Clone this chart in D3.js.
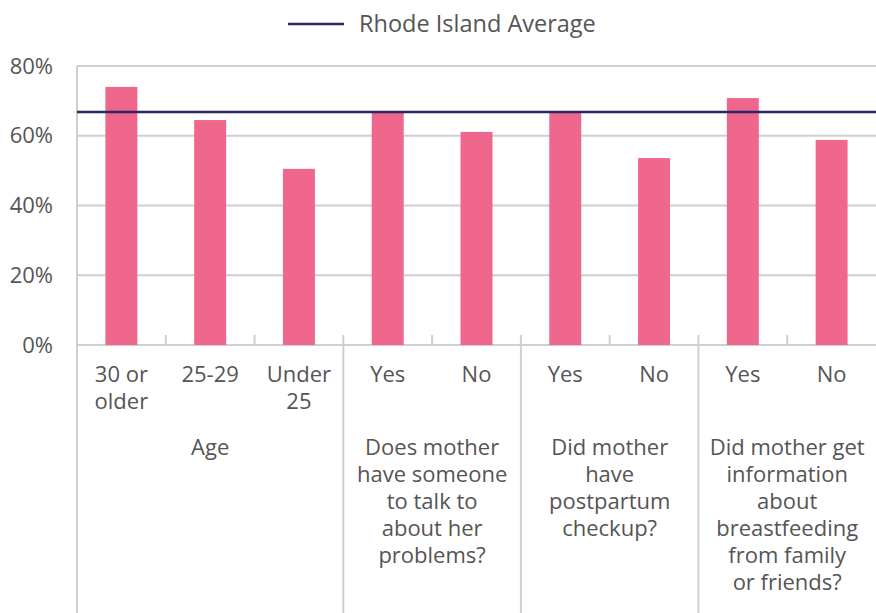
<!DOCTYPE html>
<html>
<head>
<meta charset="utf-8">
<script src="https://cdn.jsdelivr.net/npm/d3@7"></script>
<style>
  body { margin: 0; background: #fff; }
  svg text { font-family: "Open Sans", "Noto Sans", sans-serif; fill: #555; }
</style>
</head>
<body>
<svg id="drawing_region"></svg>
<script>
// category keys (unique) and their printed labels
const keys = ["age30", "age25", "age20", "talkY", "talkN", "ppY", "ppN", "bfY", "bfN"];
const labels = ["30 or\nolder", "25-29", "Under\n25", "Yes", "No", "Yes", "No", "Yes", "No"];
const values = [74.0, 64.5, 50.5, 66.9, 61.1, 66.9, 53.6, 70.8, 58.8];

const groupNames = [
    ["Age"],
    ["Does mother", "have someone", "to talk to", "about her", "problems?"],
    ["Did mother", "have", "postpartum", "checkup?"],
    ["Did mother get", "information", "about", "breastfeeding", "from family", "or friends?"]
];
const groupSizes = [3, 2, 2, 2];

const average = 66.8;
const averageLabel = "Rhode Island Average";
const yTicks = [0, 20, 40, 60, 80];

const config = {
    width: 876,
    height: 613,
    margin: {top: 66, right: 0, bottom: 268, left: 77}
};

const svg = d3.select("#drawing_region")
    .attr("width", config.width)
    .attr("height", config.height);

const inner_width = config.width - config.margin.left - config.margin.right;
const inner_height = config.height - config.margin.top - config.margin.bottom;

const chart = svg.append("g")
    .attr("transform", `translate(${config.margin.left}, ${config.margin.top})`);

const xscale = d3.scaleBand()
    .domain(keys)
    .range([0, inner_width])
    .paddingInner(0.64)
    .paddingOuter(0.32);

const yscale = d3.scaleLinear()
    .domain([0, 80])
    .range([inner_height, 0]);

const grid = "#cfcfcf";

// gridlines
chart.append("g")
    .selectAll("line")
    .data(yTicks)
    .join("line")
    .attr("x1", 0)
    .attr("x2", inner_width)
    .attr("y1", d => yscale(d))
    .attr("y2", d => yscale(d))
    .attr("stroke", grid)
    .attr("stroke-width", 2);

// y axis labels
const yaxis = d3.axisLeft(yscale)
    .tickValues(yTicks)
    .tickSize(0)
    .tickPadding(24)
    .tickFormat(d => d + "%");

chart.append("g")
    .call(yaxis)
    .call(g => g.select(".domain").remove())
    .selectAll("text")
    .attr("font-size", "22px")
    .attr("font-family", null)
    .attr("fill", "#555");

// left axis line runs down to the bottom
chart.append("line")
    .attr("x1", 0).attr("x2", 0)
    .attr("y1", 0).attr("y2", config.height - config.margin.top)
    .attr("stroke", grid)
    .attr("stroke-width", 2);

// small ticks between categories, long dividers between groups
const step = xscale.step();
const boundaries = d3.range(1, keys.length);
const groupEdges = d3.cumsum(groupSizes).slice(0, -1);

chart.append("g")
    .selectAll("line")
    .data(boundaries)
    .join("line")
    .attr("x1", d => d * step)
    .attr("x2", d => d * step)
    .attr("y1", inner_height - 10)
    .attr("y2", d => groupEdges.includes(d) ? config.height - config.margin.top : inner_height)
    .attr("stroke", grid)
    .attr("stroke-width", 2);

// bars
chart.append("g")
    .selectAll("rect")
    .data(values)
    .join("rect")
    .attr("x", (d, i) => xscale(keys[i]))
    .attr("y", d => yscale(d))
    .attr("width", xscale.bandwidth())
    .attr("height", d => inner_height - yscale(d))
    .attr("fill", "#f0678d");

// average line
chart.append("line")
    .attr("x1", 0)
    .attr("x2", inner_width)
    .attr("y1", yscale(average))
    .attr("y2", yscale(average))
    .attr("stroke", "#2b2766")
    .attr("stroke-width", 2.5);

// category labels
const catLabels = chart.append("g")
    .selectAll("text")
    .data(labels)
    .join("text")
    .attr("x", (d, i) => xscale(keys[i]) + xscale.bandwidth() / 2)
    .attr("y", inner_height + 37)
    .attr("text-anchor", "middle")
    .attr("font-size", "22px");

catLabels.selectAll("tspan")
    .data(d => d.split("\n"))
    .join("tspan")
    .attr("x", function() { return this.parentNode.getAttribute("x"); })
    .attr("dy", (d, i) => i === 0 ? 0 : 27)
    .text(d => d);

// group labels
const groupStart = [0, ...groupEdges];
const groupLabels = chart.append("g")
    .selectAll("text")
    .data(groupNames)
    .join("text")
    .attr("x", (d, i) => (groupStart[i] + groupSizes[i] / 2) * step)
    .attr("y", inner_height + 110)
    .attr("text-anchor", "middle")
    .attr("font-size", "22px");

groupLabels.selectAll("tspan")
    .data(d => d)
    .join("tspan")
    .attr("x", function() { return this.parentNode.getAttribute("x"); })
    .attr("dy", (d, i) => i === 0 ? 0 : 27)
    .text(d => d);

// legend
const legend = svg.append("g")
    .attr("transform", "translate(288, 24)");

legend.append("line")
    .attr("x1", 0).attr("x2", 56)
    .attr("y1", 0).attr("y2", 0)
    .attr("stroke", "#2b2766")
    .attr("stroke-width", 2.5);

legend.append("text")
    .attr("x", 71)
    .attr("y", 0)
    .attr("dy", "0.35em")
    .attr("font-size", "23.5px")
    .text(averageLabel);
</script>
</body>
</html>
